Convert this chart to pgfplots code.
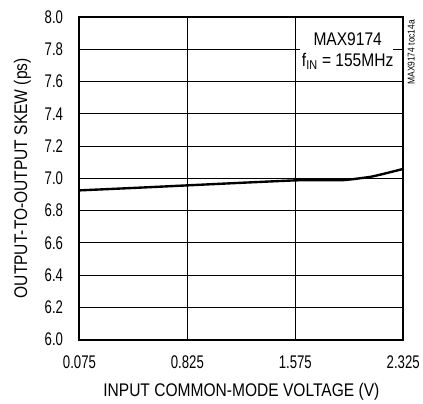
\documentclass[border=0pt]{standalone}
\usepackage{fontspec}
\setmainfont{Liberation Sans}[FakeStretch=0.85]
\newfontfamily\tickfont{Liberation Sans}[FakeStretch=0.72]
\usepackage{pgfplots}
\pgfplotsset{compat=1.18}
\begin{document}
\begin{tikzpicture}
\begin{axis}[
  scale only axis,
  width=326bp, height=325bp,
  xmin=0.075, xmax=2.325, ymin=6.0, ymax=8.0,
  xtick={0.075,0.825,1.575,2.325},
  xticklabels={0.075,0.825,1.575,2.325},
  ytick={6.0,6.2,...,8.01},
  y tick label style={xshift=-13bp},
  yticklabel={\pgfmathprintnumber[fixed,fixed zerofill,precision=1]{\tick}},
  /pgf/number format/assume math mode=true,
  tick label style={font=\tickfont\fontsize{18.5}{21}\selectfont},
  label style={font=\fontsize{18.5}{21}\selectfont},
  grid=major,
  major grid style={black, line width=0.8pt},
  axis line style={line width=2pt},
  major tick length=0pt,
  xlabel={INPUT COMMON-MODE VOLTAGE (V)},
  ylabel={OUTPUT-TO-OUTPUT SKEW (ps)},
  x tick label style={yshift=-13bp},
  xlabel style={yshift=-7bp},
  ylabel style={yshift=7bp},
  clip=false,
]
\addplot[black, line width=2.4pt, smooth, tension=0.3] coordinates {
  (0.075,6.925) (0.450,6.94) (0.825,6.956) (1.200,6.972) (1.575,6.987)
  (1.750,6.988) (1.918,6.989) (2.110,7.011) (2.325,7.058)
};
\path[fill=white] ([shift={(-48bp,-12bp)}]axis cs:1.939,7.797) rectangle ([shift={(46bp,10bp)}]axis cs:1.939,7.797);
\node[font=\fontsize{18.5}{21}\selectfont, inner sep=0pt] at ([yshift=11bp]axis cs:1.939,7.797) {MAX9174};
\node[font=\fontsize{18.5}{21}\selectfont, inner sep=0pt] at ([yshift=-12bp]axis cs:1.939,7.797) {f\textsubscript{IN} = 155MHz};
\node[rotate=90, anchor=east, font=\fontsize{10}{11}\selectfont, inner sep=0pt]
  at ([xshift=8bp,yshift=-3bp]rel axis cs:1,1) {MAX9174 toc14a};
\path ([shift={(-80bp,-59bp)}]rel axis cs:0,0) rectangle ([shift={(17bp,17bp)}]rel axis cs:1,1);
\end{axis}
\end{tikzpicture}
\end{document}
